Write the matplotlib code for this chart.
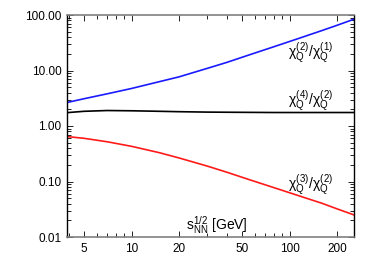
import matplotlib
matplotlib.use('Agg')
import matplotlib.pyplot as plt
from matplotlib.ticker import FixedLocator, FixedFormatter, NullFormatter, LogLocator

plt.rcParams['font.family'] = ['Liberation Sans', 'DejaVu Sans']
plt.rcParams['mathtext.fontset'] = 'custom'
plt.rcParams['mathtext.rm'] = 'Liberation Sans'
plt.rcParams['mathtext.it'] = 'Liberation Sans'

# sqrt(s_NN) in GeV
energy = [3.9, 5, 7, 10, 15, 20, 30, 40, 56, 80, 116, 160, 200, 255]
# chi2/chi1
ratio_21 = [2.65, 3.1, 3.8, 4.75, 6.3, 7.7, 10.9, 14.0, 19.3, 27, 38.5, 52.5, 65.5, 84]
# chi4/chi2
ratio_42 = [1.74, 1.84, 1.9, 1.88, 1.84, 1.81, 1.78, 1.77, 1.76, 1.75, 1.75, 1.75, 1.75, 1.75]
# chi3/chi2
ratio_32 = [0.645, 0.6, 0.52, 0.43, 0.33, 0.265, 0.19, 0.147, 0.107, 0.077, 0.0545, 0.0405, 0.032, 0.025]

xticks = [5, 10, 20, 50, 100, 200]
yticks = [0.01, 0.1, 1, 10, 100]
ylabels = ['0.01', '0.10', '1.00', '10.00', '100.00']

fig = plt.figure(figsize=(3.76, 2.63), dpi=100)
ax = fig.add_axes([67/376, 1 - 237/263, (354-67)/376, (237-15)/263])

ax.plot(energy, ratio_21, color='#1a1aff', lw=1.2)
ax.plot(energy, ratio_42, color='black', lw=1.2)
ax.plot(energy, ratio_32, color='#ff1a1a', lw=1.2)

ax.set_xscale('log')
ax.set_yscale('log')
ax.set_xlim(3.9, 255)
ax.set_ylim(0.01, 100)

ax.xaxis.set_major_locator(FixedLocator(xticks))
ax.xaxis.set_major_formatter(FixedFormatter([str(t) for t in xticks]))
minor_x = [m * 10**e for e in range(0, 3) for m in range(1, 10) if m * 10**e not in xticks]
ax.xaxis.set_minor_locator(FixedLocator(minor_x))
ax.xaxis.set_minor_formatter(NullFormatter())
ax.yaxis.set_major_locator(FixedLocator(yticks))
ax.yaxis.set_major_formatter(FixedFormatter(ylabels))
ax.yaxis.set_minor_locator(LogLocator(base=10, subs=range(2, 10)))
ax.yaxis.set_minor_formatter(NullFormatter())

ax.tick_params(which='both', direction='in', top=True, right=True, labelsize=8.5, pad=4)
ax.tick_params(which='major', length=4, width=0.6)
ax.tick_params(which='minor', length=3, width=0.6)
for side in ['top', 'bottom']:
    ax.spines[side].set_color('#808080')
    ax.spines[side].set_linewidth(1.2)
for side in ['left', 'right']:
    ax.spines[side].set_linewidth(1.0)

# label positions in pixels from the bottom-left corner of the figure
ax.text(333, 210, r'$\chi_Q^{(2)}/\chi_Q^{(1)}$', transform=None, fontsize=10,
        ha='right', va='center')
ax.text(333, 162, r'$\chi_Q^{(4)}/\chi_Q^{(2)}$', transform=None, fontsize=10,
        ha='right', va='center')
ax.text(333, 78, r'$\chi_Q^{(3)}/\chi_Q^{(2)}$', transform=None, fontsize=10,
        ha='right', va='center')
ax.text(217, 38, r'$\mathrm{s}_{\mathrm{NN}}^{1/2}$ [GeV]', transform=None, fontsize=10,
        ha='center', va='center')

fig.savefig('out.png', dpi=100)
